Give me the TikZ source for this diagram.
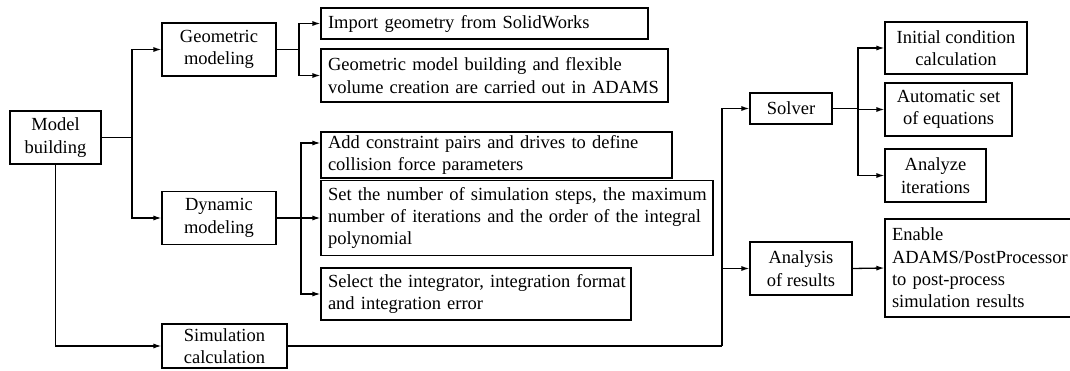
\documentclass[tikz,border=0pt]{standalone}
\usepackage{fontspec}
\setmainfont{Liberation Serif}
\usetikzlibrary{arrows.meta,positioning}

\tikzset{
  blk/.style={draw,line width=1.1pt,inner sep=0pt,align=center,
    font=\fontsize{18.5}{22.4}\selectfont},
  txt/.style={blk,align=left,inner xsep=7pt,text width=#1},
  link/.style={line width=1.3pt},
  arr/.style={link,-{Latex[length=8pt,width=5pt]}}
}

\begin{document}
\begin{tikzpicture}[x=1pt,y=-1pt]
\useasboundingbox (0,0) rectangle (1070,371);
\clip (0,0) rectangle (1070,371);

\node[blk,minimum width=91,minimum height=53] (mb) at (55.5,137.5) {Model\\building};
\node[blk,minimum width=114,minimum height=53] (geo) at (219,49.5) {Geometric\\modeling};
\node[blk,minimum width=114,minimum height=53] (dyn) at (219,218) {Dynamic\\modeling};
\node[blk,minimum width=125,minimum height=44] (sim) at (224.5,346) {Simulation\\calculation};

\node[txt=313pt,minimum height=31] (imp) at (484.5,23.5) {Import geometry from SolidWorks};
\node[txt=333pt,minimum height=53] (gmb) at (494.5,75.5)
  {Geometric model building and flexible\\volume creation are carried out in ADAMS};
\node[txt=337pt,minimum height=46] (add) at (496.5,155)
  {Add constraint pairs and drives to define\\collision force parameters};
\node[txt=378pt,minimum height=75] (set) at (517,218)
  {\mbox{Set the number of simulation steps, the maximum}\\
   \mbox{number of iterations and the order of the integral}\\polynomial};
\node[txt=296pt,minimum height=52] (sel) at (476,294)
  {\mbox{Select the integrator, integration format}\\and integration error};

\node[blk,minimum width=82,minimum height=31] (solver) at (791,108.5) {Solver};
\node[blk,minimum width=102,minimum height=53] (ana) at (801,268.5) {Analysis\\of results};

\node[blk,minimum width=142,minimum height=52] (ini) at (956,48) {Initial condition\\calculation};
\node[blk,minimum width=127,minimum height=53] (auto) at (948.5,109.5) {Automatic set\\of equations};
\node[blk,minimum width=101,minimum height=53] (anz) at (935.5,175.5) {Analyze\\iterations};
\node[txt=181pt,minimum height=98] (ena) at (982.5,268)
  {Enable\\\mbox{ADAMS/PostProcessor}\\to post-process\\simulation results};

\coordinate (mbj) at (132,137.5);
\coordinate (geoj) at (299,49.5);
\coordinate (dynj) at (301,218);
\coordinate (simj) at (722,346);
\coordinate (solj) at (858,108.5);

\draw[link] (mb.east) -- (mbj);
\draw[arr] (mbj) |- (geo.west);
\draw[arr] (mbj) |- (dyn.west);
\draw[arr] (mb.south) |- (sim.west);

\draw[link] (geo.east) -- (geoj);
\draw[arr] (geoj) |- (imp.west);
\draw[arr] (geoj) |- (gmb.west);

\draw[link] (dyn.east) -- (dynj);
\draw[arr] (dynj) |- ([yshift=12pt]add.west);
\draw[arr] (dynj) -- (set.west);
\draw[arr] (dynj) |- (sel.west);

\draw[link] (sim.east) -- (simj);
\draw[arr] (simj) |- (solver.west);
\draw[arr] (simj) |- (ana.west);

\draw[link] (solver.east) -- (solj);
\draw[arr] (solj) |- (ini.west);
\draw[arr] (solj) |- (auto.west);
\draw[arr] (solj) |- (anz.west);
\draw[arr] (ana.east) -- (ena.west);

\end{tikzpicture}
\end{document}
